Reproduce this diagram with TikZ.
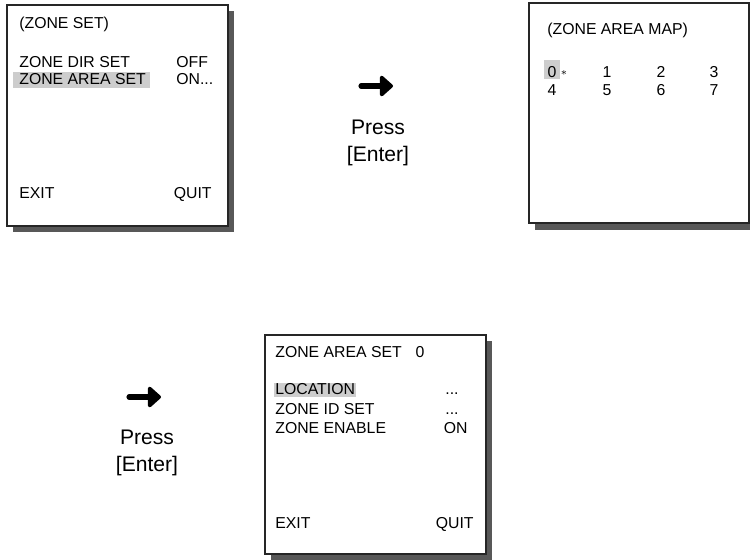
\documentclass[tikz,border=0pt]{standalone}
\usepackage{fontspec}
\setmainfont{Liberation Sans}
\usetikzlibrary{arrows.meta}
\tikzset{
  screen/.style={draw=black!85, line width=0.6pt, fill=white},
  drop/.style={fill=shade},
  osd/.style={font=\fontsize{9}{10.8}\selectfont, inner sep=0pt},
  hint/.style={font=\fontsize{12}{15.5}\selectfont, align=center},
  press/.style={-{Triangle[length=2.8mm, width=4.8mm, round]}, line width=2.9pt, line cap=round},
}
\definecolor{shade}{RGB}{88,88,88}
\definecolor{hilite}{RGB}{205,205,205}

\begin{document}
\begin{tikzpicture}[x=0.02cm, y=-0.02cm]
  \useasboundingbox (0,0) rectangle (750,559);
  % screen 1: zone set
  \fill[drop] (13,11) rectangle (234,232);
  \draw[screen] (7,5) rectangle (228,226);
  \fill[hilite] (13,72) rectangle (150,88);
  \node[osd, anchor=base west] (zsTitle) at (19,28) {(ZONE SET)};
  \node[osd, anchor=base west] (zsDir) at (19,67) {ZONE DIR SET};
  \node[osd, anchor=base west] (zsArea) at (19,84) {ZONE AREA SET};
  \node[osd, anchor=base west] (zsOff) at (176,67) {OFF};
  \node[osd, anchor=base west] (zsOn) at (176,84) {ON...};
  \node[osd, anchor=base west] (zsExit) at (19,198) {EXIT};
  \node[osd, anchor=base east] (zsQuit) at (212,198) {QUIT};

  % first step
  \coordinate (a1) at (361,86);
  \coordinate (b1) at (393,86);
  \draw[press] (a1) -- (b1);
  \node[hint] (hint1) at (378,143) {Press\\{[Enter]}};

  % screen 2: area map
  \fill[drop] (535,9) rectangle (756,230);
  \draw[screen] (529,3) rectangle (749,223);
  \fill[hilite] (544,60) rectangle (560,79);
  \node[osd, anchor=base west] (mapTitle) at (547,34) {(ZONE AREA MAP)};
  \node[osd, anchor=base] (m0) at (552,77) {0};
  \node[osd, anchor=base] (m1) at (607,77) {1};
  \node[osd, anchor=base] (m2) at (661,77) {2};
  \node[osd, anchor=base] (m3) at (714,77) {3};
  \node[osd, anchor=base] (m4) at (552,95) {4};
  \node[osd, anchor=base] (m5) at (607,95) {5};
  \node[osd, anchor=base] (m6) at (661,95) {6};
  \node[osd, anchor=base] (m7) at (714,95) {7};
  \node[osd, font=\fontsize{6.5}{6.5}\selectfont] (mStar) at (564,73) {$\ast$};

  % second step
  \coordinate (a2) at (129,397);
  \coordinate (b2) at (161,397);
  \draw[press] (a2) -- (b2);
  \node[hint] (hint2) at (147,453) {Press\\{[Enter]}};

  % screen 3: zone area set
  \fill[drop] (271,341) rectangle (492,560);
  \draw[screen] (265,335) rectangle (486,554);
  \fill[hilite] (274,383) rectangle (356,397);
  \node[osd, anchor=base west] (asTitle) at (275,357) {ZONE AREA SET};
  \node[osd, anchor=base] (asNum) at (420,357) {0};
  \node[osd, anchor=base west] (asLoc) at (275,394) {LOCATION};
  \node[osd, anchor=base west] (asId) at (275,414) {ZONE ID SET};
  \node[osd, anchor=base west] (asEn) at (275,433) {ZONE ENABLE};
  \node[osd, anchor=base] (asLocV) at (452,394) {...};
  \node[osd, anchor=base] (asIdV) at (452,414) {...};
  \node[osd, anchor=base east] (asEnV) at (468,433) {ON};
  \node[osd, anchor=base west] (asExit) at (275,528) {EXIT};
  \node[osd, anchor=base east] (asQuit) at (474,528) {QUIT};
\end{tikzpicture}
\end{document}
